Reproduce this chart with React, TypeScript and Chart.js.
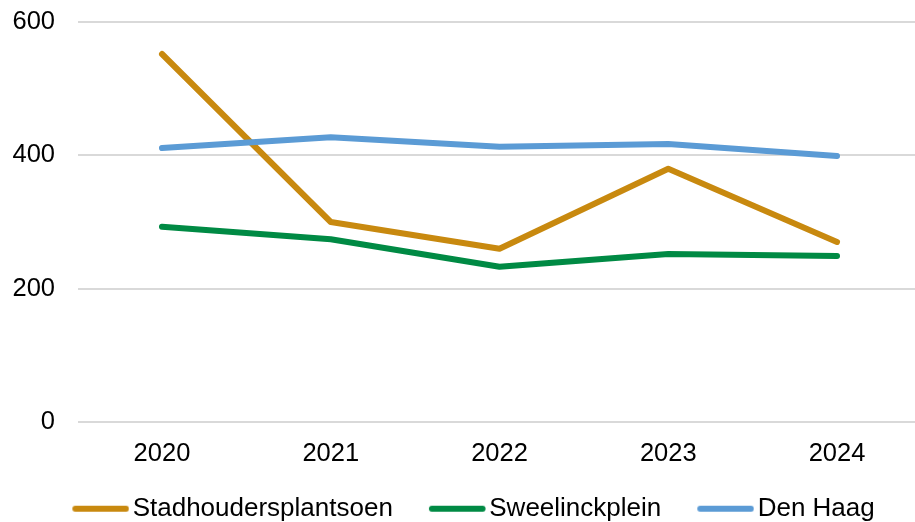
import React, { useEffect, useRef } from 'react';
import { Chart, registerables } from 'chart.js';

Chart.register(...registerables);

const years = ['2020', '2021', '2022', '2023', '2024'];
const stadhouders = [552, 300, 260, 380, 270];
const sweelinck = [293, 274, 233, 252, 249];
const denHaag = [411, 427, 413, 417, 399];
const seriesNames = ['Stadhoudersplantsoen', 'Sweelinckplein', 'Den Haag'];
const seriesColors = ['#C8890F', '#008A44', '#5B9BD5'];
const yMin = 0;
const yMax = 600;
const yStep = 200;

const FONT = '"Liberation Sans", Arial, sans-serif';
const TICK_SIZE = 25.5;
const LEGEND_SIZE = 26;
const LINE_W = 6;

function makeSwatch(color: string): HTMLCanvasElement {
  const c = document.createElement('canvas');
  c.width = 78;
  c.height = 10;
  const g = c.getContext('2d');
  if (g) {
    g.strokeStyle = color;
    g.lineWidth = LINE_W;
    g.lineCap = 'round';
    g.beginPath();
    g.moveTo(24, 5);
    g.lineTo(74.6, 5);
    g.stroke();
  }
  return c;
}

export default function App() {
  const ref = useRef<HTMLCanvasElement | null>(null);

  useEffect(() => {
    if (!ref.current) return;
    const values = [stadhouders, sweelinck, denHaag];
    const swatches = seriesColors.map(makeSwatch);
    const chart = new Chart(ref.current, {
      type: 'line',
      data: {
        labels: years,
        datasets: values.map((v, i) => ({
          label: seriesNames[i],
          data: v,
          borderColor: seriesColors[i],
          backgroundColor: seriesColors[i],
          borderWidth: LINE_W,
          borderCapStyle: 'round' as const,
          borderJoinStyle: 'round' as const,
          tension: 0,
          pointRadius: 0,
          pointHoverRadius: 0,
          fill: false,
          order: values.length - 1 - i,
        })),
      },
      options: {
        responsive: false,
        animation: false,
        layout: { padding: { left: 14.3, right: 3.6, top: 22, bottom: 0 } },
        plugins: {
          tooltip: { enabled: false },
          legend: {
            position: 'bottom',
            maxHeight: 51,
            labels: {
              usePointStyle: true,
              pointStyleWidth: 58.7,
              padding: 24.7,
              color: '#000000',
              font: { family: FONT, size: LEGEND_SIZE },
              generateLabels: (c: any) =>
                c.data.datasets.map((ds: any, i: number) => ({
                  text: ds.label,
                  strokeStyle: ds.borderColor,
                  fillStyle: ds.borderColor,
                  lineWidth: 0,
                  pointStyle: swatches[i],
                  hidden: false,
                  datasetIndex: i,
                  fontColor: '#000000',
                })),
            },
          },
        },
        scales: {
          x: {
            offset: true,
            grid: { display: false, drawTicks: false },
            border: { display: false },
            ticks: {
              color: '#000000',
              padding: 16.7,
              font: { family: FONT, size: TICK_SIZE },
              maxRotation: 0,
            },
            afterFit: (s: any) => {
              s.height = 49;
            },
          },
          y: {
            min: yMin,
            max: yMax,
            grid: { color: '#D9D9D9', lineWidth: 2, drawTicks: false },
            border: { display: false },
            ticks: {
              stepSize: yStep,
              color: '#000000',
              mirror: true,
              crossAlign: 'far',
              padding: -65.1,
              font: { family: FONT, size: TICK_SIZE },
            },
            afterFit: (s: any) => {
              s.width = 63.3;
            },
          },
        },
      },
    });
    return () => chart.destroy();
  }, []);

  return (
    <div
      style={{
        position: 'absolute',
        left: 0,
        top: 0,
        width: 915,
        height: 522,
        overflow: 'hidden',
        background: '#ffffff',
      }}
    >
      <canvas ref={ref} width={925} height={522} style={{ display: 'block' }} />
    </div>
  );
}
